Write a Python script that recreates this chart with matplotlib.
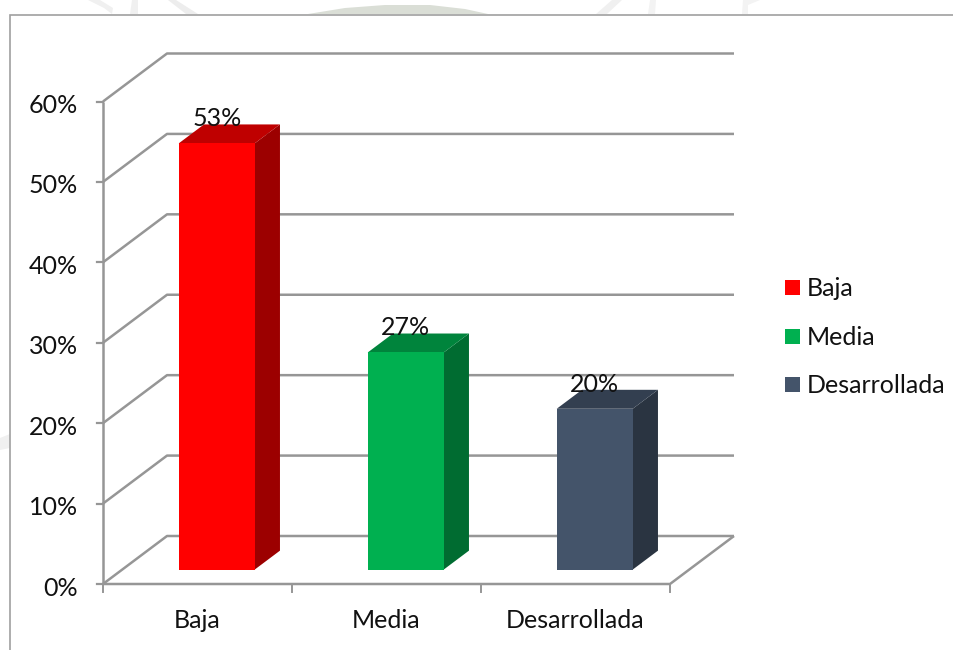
import matplotlib
matplotlib.use("Agg")
import matplotlib.pyplot as plt
from matplotlib.patches import Polygon, Rectangle

plt.rcParams["font.family"] = ["Lato", "DejaVu Sans"]

categories = ["Baja", "Media", "Desarrollada"]
values = [53, 27, 20]
face_colors = ["#FF0000", "#00B050", "#44546A"]
top_colors = ["#BF0000", "#00843C", "#333F50"]
side_colors = ["#9C0000", "#006C31", "#2A3441"]
y_ticks = [0, 10, 20, 30, 40, 50, 60]

W, H = 954, 650
GRID = "#969696"
TEXT = "#111111"
FS = 18

fig = plt.figure(figsize=(W / 100, H / 100), dpi=100, facecolor="white")

# Full-figure layer for the outer frame and the faint page marks behind it
bg = fig.add_axes([0, 0, 1, 1])
bg.set_xlim(0, W)
bg.set_ylim(H, 0)
bg.axis("off")
page_marks = [
    ([(308, 14), (345, 8), (385, 5), (430, 5), (465, 9), (488, 14)], "#DADED6"),
    ([(596, 14), (612, 0), (622, 0), (607, 14)], "#F0F0F0"),
    ([(648, 14), (650, 0), (656, 0), (655, 14)], "#F3F3F3"),
    ([(88, 0), (100, 0), (113, 8), (112, 14), (104, 8)], "#F0F0F0"),
    ([(130, 14), (132, 0), (138, 0), (138, 14)], "#F0F0F0"),
    ([(168, 0), (176, 0), (198, 14), (186, 14)], "#EDEDED"),
    ([(743, 0), (760, 0), (748, 5), (748, 14), (742, 14)], "#F3F3F3"),
    ([(0, 438), (10, 434), (10, 448), (0, 450)], "#F0F0F0"),
]
for pts, col in page_marks:
    bg.add_patch(Polygon(pts, facecolor=col, edgecolor="none"))
bg.plot([10.5, 10.5, W], [H, 14.5, 14.5], color="#A0A0A0", lw=1.2, solid_joinstyle="miter")

# Axes spanning the front plane of the 3D box
left, right, bottom, top = 103, 670, 584, 101.5
ax = fig.add_axes([left / W, 1 - bottom / H, (right - left) / W, (bottom - top) / H])
ax.set_xlim(0, len(categories))
ax.set_ylim(0, 60)
ax.axis("off")
ax.patch.set_alpha(0)

# Oblique projection: depth d in [0, 1] shifts a point up and to the right
DX = 64 / ((right - left) / len(categories))
DY = 48 / ((bottom - top) / 60)


def proj(x, y, d=0.0):
    return x + d * DX, y + d * DY


def line(points, lw=1.8, z=1):
    xs, ys = zip(*points)
    ax.plot(xs, ys, color=GRID, lw=lw, clip_on=False, zorder=z, solid_capstyle="butt")


# Gridlines along the left wall and back wall
n = len(categories)
for t in y_ticks:
    line([proj(0, t, 0), proj(0, t, 1), proj(n, t, 1)])
    ax.plot([-6 / ((right - left) / n), 0], [t, t], color=GRID, lw=1.6, clip_on=False, zorder=1)
    ax.text(-0.133, t - 0.5, f"{t}%", ha="right", va="center", fontsize=FS, color=TEXT, clip_on=False)

# Vertical wall edge, floor edges and category ticks
line([proj(0, 0), proj(0, 60)])
line([proj(0, 0), proj(n, 0), proj(n, 0, 1)], z=1)
for i in range(n + 1):
    ax.plot([i, i], [0, -1], color=GRID, lw=1.4, clip_on=False, zorder=1)

# Category labels below the floor
for i, name in enumerate(categories):
    ax.text(i + 0.5, -4.5, name, ha="center", va="center", fontsize=FS, color=TEXT, clip_on=False)

# Bars drawn as three faces of a box, sitting between depth 0.3 and 0.7
BAR_W = 0.402
D0, D1 = 0.30, 0.695
for i, v in enumerate(values):
    x0 = i + 0.5 - BAR_W / 2
    x1 = x0 + BAR_W
    front = [proj(x0, 0, D0), proj(x1, 0, D0), proj(x1, v, D0), proj(x0, v, D0)]
    side = [proj(x1, 0, D0), proj(x1, 0, D1), proj(x1, v, D1), proj(x1, v, D0)]
    cap = [proj(x0, v, D0), proj(x1, v, D0), proj(x1, v, D1), proj(x0, v, D1)]
    for pts, col in ((side, side_colors[i]), (cap, top_colors[i]), (front, face_colors[i])):
        ax.add_patch(Polygon(pts, closed=True, facecolor=col, edgecolor="none", zorder=3, clip_on=False))
    lx, ly = proj(i + 0.5, v, D0)
    ax.text(lx, ly + 3.05, f"{v}%", ha="center", va="center", fontsize=FS, color=TEXT, zorder=4, clip_on=False)

# Legend with square swatches
for name, col, ypix in zip(categories, face_colors, [287.5, 336.5, 384.5]):
    bg.add_patch(Rectangle((785, ypix - 7.5), 15, 15, facecolor=col, edgecolor="none"))
    bg.text(807, ypix + 1, name, ha="left", va="center", fontsize=FS, color=TEXT)

fig.savefig("out.png", dpi=100)
